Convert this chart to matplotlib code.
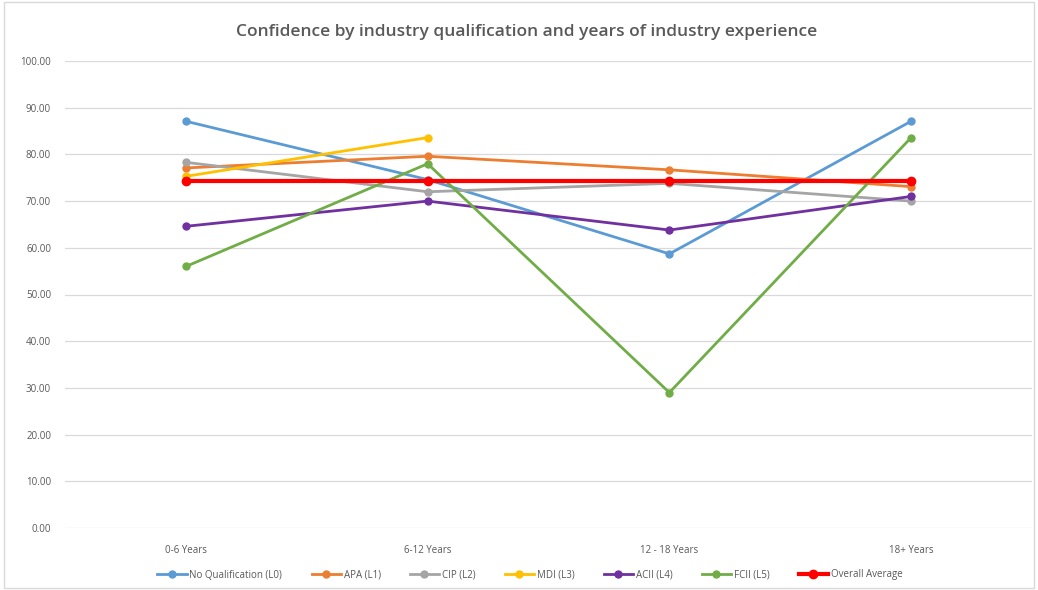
import matplotlib
matplotlib.use('Agg')
import matplotlib.pyplot as plt
from matplotlib.patches import Rectangle

categories = ['0-6 Years', '6-12 Years', '12 - 18 Years', '18+ Years']

no_qual = [87.1, 74.6, 58.7, 87.1]
apa = [77.1, 79.6, 76.7, 73.1]
cip = [78.3, 72.0, 73.8, 70.0]
mdi = [75.3, 83.6]
acii = [64.6, 70.0, 63.8, 71.0]
fcii = [56.0, 78.0, 29.0, 83.6]
overall = [74.3, 74.3, 74.3, 74.3]

series = [
    ('No Qualification (L0)', no_qual, '#5B9BD5', 2.0),
    ('APA (L1)', apa, '#ED7D31', 2.0),
    ('CIP (L2)', cip, '#A5A5A5', 2.0),
    ('MDI (L3)', mdi, '#FFC000', 2.0),
    ('ACII (L4)', acii, '#7030A0', 2.0),
    ('FCII (L5)', fcii, '#70AD47', 2.0),
    ('Overall Average', overall, '#FF0000', 3.0),
]

plt.rcParams['font.family'] = ['Open Sans', 'DejaVu Sans']

fig = plt.figure(figsize=(10.38, 5.9), dpi=100)
ax = fig.add_axes([65/1038, 1-528/590, (1032-65)/1038, (528-61)/590])

for name, vals, col, lw in series:
    x = list(range(len(vals)))
    ax.plot(x, vals, color=col, linewidth=lw, marker='o', markersize=5 if lw < 3 else 6,
            label=name, zorder=3)

ax.set_xlim(-0.5, 3.5)
ax.set_ylim(0, 100)
ax.set_yticks(range(0, 101, 10))
ax.set_yticklabels(['%.2f' % v for v in range(0, 101, 10)])
ax.set_xticks(range(len(categories)))
ax.set_xticklabels(categories)
ax.tick_params(axis='both', length=0, labelsize=7, labelcolor='#595959')
ax.tick_params(axis='y', pad=10)
ax.tick_params(axis='x', pad=12)
ax.grid(axis='y', color='#D9D9D9', linewidth=0.9)
ax.set_axisbelow(True)
for s in ax.spines.values():
    s.set_visible(False)

fig.text(527/1038, 1-32/590, 'Confidence by industry qualification and years of industry experience',
         ha='center', va='center', fontsize=12.5, fontweight='semibold', color='#595959')

ax.legend(loc='center', bbox_to_anchor=((530-65)/(1032-65), (528-575)/(528-61)), ncol=7,
          frameon=False, fontsize=7, labelcolor='#595959', handlelength=3.0,
          columnspacing=3.0, handletextpad=0.3)

fig.add_artist(Rectangle((4/1038, 2/590), 1030/1038, 586/590, transform=fig.transFigure,
                         fill=False, edgecolor='#D9D9D9', linewidth=1))

fig.savefig('out.png', dpi=100)
